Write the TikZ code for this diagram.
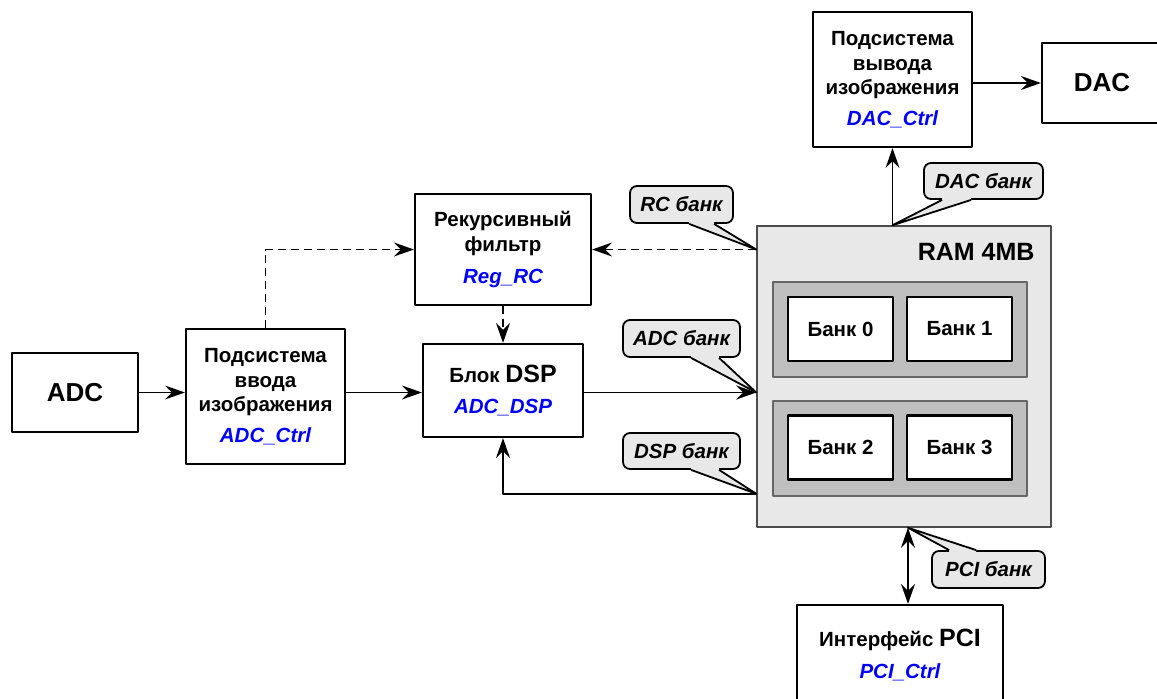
\documentclass[tikz,border=0pt]{standalone}
\usepackage{fontspec}
\setmainfont{Liberation Sans}
\usetikzlibrary{calc, positioning}
\usetikzlibrary{arrows.meta}

\newcommand{\ctrlname}[1]{\textcolor{blue}{\itshape #1}}
\newcommand{\bigword}[1]{{\fontsize{25}{29}\selectfont #1}}
% pointer of a bank tag: base points #1,#2, tip #3, shift into the tag #4
\newcommand{\tagtip}[4]{%
  \fill[gray!18] ([#4]#1) -- (#1) -- (#3) -- (#2) -- ([#4]#2) -- cycle;
  \draw[line width=1.8pt] (#1) -- (#3) -- (#2);}

\begin{document}
\begin{tikzpicture}[x=1pt,y=-1pt,line join=round,
  block/.style={draw,line width=2.2pt,fill=white,align=center,inner sep=0pt,
    font=\bfseries\fontsize{20.5}{24.5}\selectfont},
  bigblock/.style={block,font=\bfseries\fontsize{26}{30}\selectfont},
  bank/.style={block,minimum width=105,minimum height=64},
  group/.style={draw=black!60,line width=1.3pt,fill=gray!50,
    minimum width=254,minimum height=95},
  tag/.style={draw,line width=1.8pt,rounded corners=7pt,fill=gray!18,inner sep=0pt,
    font=\bfseries\itshape\fontsize{20.5}{24.5}\selectfont},
  arr/.style={line width=1.9pt,-{Stealth[length=20pt,width=14pt,inset=7pt]}},
  dblarr/.style={line width=1.9pt,
    {Stealth[length=20pt,width=14pt,inset=7pt]}-{Stealth[length=20pt,width=14pt,inset=7pt]}},
  dasharr/.style={arr,dash pattern=on 8pt off 5pt}]
\path[use as bounding box] (0,0) rectangle (1157,699);
\clip (0,0) rectangle (1157,699);

% blocks
\node[bigblock,minimum width=126,minimum height=79] (adc) at (75,392.5) {ADC};
\node[block,minimum width=159,minimum height=135] (vvod) at (265.5,396.5)
  {Подсистема\\ввода\\изображения\\[6pt]\ctrlname{ADC\_Ctrl}};
\node[block,minimum width=176,minimum height=111] (rec) at (503,249.5)
  {Рекурсивный\\фильтр\\[8pt]\ctrlname{Reg\_RC}};
\node[block,minimum width=160,minimum height=93] (dsp) at (503,390.5)
  {Блок \bigword{DSP}\\[6pt]\ctrlname{ADC\_DSP}};
\node[block,minimum width=159,minimum height=135] (vyvod) at (892.5,79.5)
  {Подсистема\\вывода\\изображения\\[6pt]\ctrlname{DAC\_Ctrl}};
\node[bigblock,minimum width=120,minimum height=80] (dac) at (1102,83) {DAC};
\node[block,minimum width=206,minimum height=100] (pci) at (900,655)
  {Интерфейс \bigword{PCI}\\[8pt]\ctrlname{PCI\_Ctrl}};

% memory
\node[draw=black!70,line width=1.5pt,fill=gray!18,minimum width=294,minimum height=301]
  (ram) at (904,376.5) {};
\node[font=\bfseries\fontsize{25}{29}\selectfont,anchor=east] (ramlabel) at (1038,252) {RAM 4MB};
\node[group] (grpA) at (900,329.5) {};
\node[group] (grpB) at (900,448.5) {};
\node[bank] (bank0) at (840.5,329) {Банк 0};
\node[bank] (bank1) at (959.5,329) {Банк 1};
\node[bank] (bank2) at (840.5,447.5) {Банк 2};
\node[bank] (bank3) at (959.5,447.5) {Банк 3};

\coordinate (rRC) at (ram.west |- rec.east);
\coordinate (rADC) at (ram.west |- adc.east);
\coordinate (rDSP) at ([yshift=34pt]ram.south west);
\coordinate (rDAC) at (vyvod.south |- ram.north);
\coordinate (rPCI) at ([xshift=4pt]ram.south);

% connections
\draw[arr] (adc.east) -- (adc.east -| vvod.west);
\draw[arr] (vvod.east |- adc.east) -- (dsp.west |- adc.east);
\draw[arr] (dsp.east |- adc.east) -- (rADC);
\draw[dasharr] (vvod.north) |- (rec.west);
\draw[dasharr] (rRC) -- (rec.east);
\draw[dasharr] (rec.south) -- (dsp.north);
\draw[arr] (rDSP) -| (dsp.south);
\draw[arr] (rDAC) -- (vyvod.south);
\draw[arr] (vyvod.east |- dac.west) -- (dac.west);
\draw[dblarr] (rPCI) -- (rPCI |- pci.north);

% bank tags
\node[tag,minimum width=103,minimum height=37] (tRC) at (681.5,204.5) {RC банк};
\node[tag,minimum width=117,minimum height=37] (tADC) at (681.5,338.5) {ADC банк};
\node[tag,minimum width=117,minimum height=36] (tDSP) at (681.5,451) {DSP банк};
\node[tag,minimum width=119,minimum height=36] (tDAC) at (983.5,181) {DAC банк};
\node[tag,minimum width=113,minimum height=37] (tPCI) at (988.5,569.5) {PCI банк};

\coordinate (tRCa) at ($(tRC.south west)+(60,0)$);
\coordinate (tRCb) at ($(tRC.south west)+(85,0)$);
\coordinate (tADCa) at ($(tADC.south west)+(69,0)$);
\coordinate (tADCb) at ($(tADC.south west)+(97,0)$);
\coordinate (tDSPa) at ($(tDSP.south west)+(69,0)$);
\coordinate (tDSPb) at ($(tDSP.south west)+(97,0)$);
\coordinate (tDACa) at ($(tDAC.south west)+(19,0)$);
\coordinate (tDACb) at ($(tDAC.south west)+(48,0)$);
\coordinate (tPCIa) at ($(tPCI.north west)+(18,0)$);
\coordinate (tPCIb) at ($(tPCI.north west)+(45,0)$);
\tagtip{tRCa}{tRCb}{rRC}{yshift=2pt}
\tagtip{tADCa}{tADCb}{rADC}{yshift=2pt}
\tagtip{tDSPa}{tDSPb}{rDSP}{yshift=2pt}
\tagtip{tDACa}{tDACb}{rDAC}{yshift=2pt}
\tagtip{tPCIa}{tPCIb}{rPCI}{yshift=-2pt}
\end{tikzpicture}
\end{document}
